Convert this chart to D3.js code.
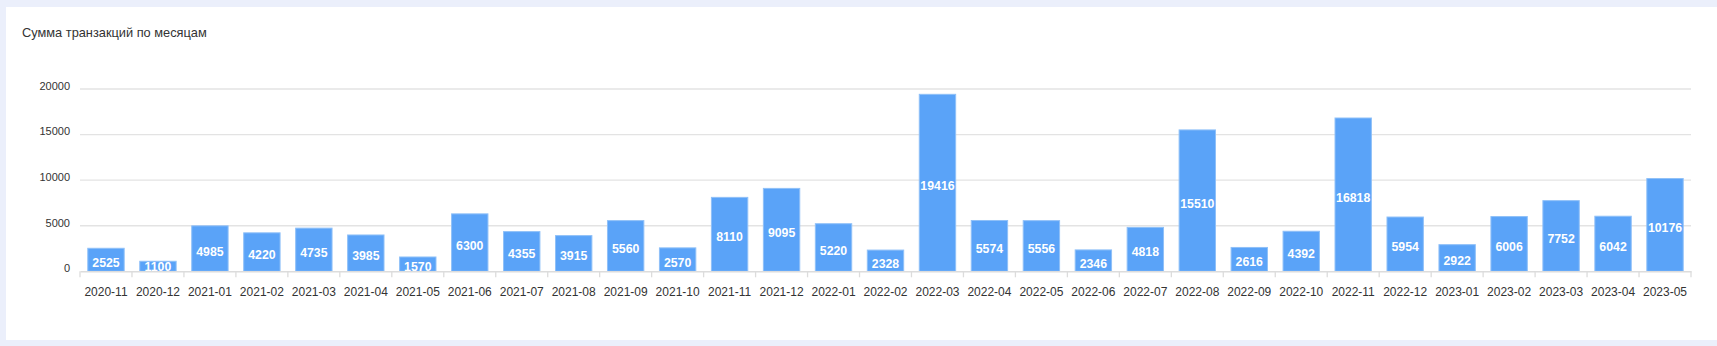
<!DOCTYPE html>
<html>
<head>
<meta charset="utf-8">
<script src="https://cdn.jsdelivr.net/npm/d3@7"></script>
<style>
  html, body { margin: 0; padding: 0; background: #ebeffb; }
  svg { display: block; font-family: "Liberation Sans", Arial, sans-serif; }
</style>
</head>
<body>
<svg width="1717" height="346"></svg>
<script>
// months and sums
const months = ["2020-11","2020-12","2021-01","2021-02","2021-03","2021-04","2021-05","2021-06",
  "2021-07","2021-08","2021-09","2021-10","2021-11","2021-12","2022-01","2022-02","2022-03",
  "2022-04","2022-05","2022-06","2022-07","2022-08","2022-09","2022-10","2022-11","2022-12",
  "2023-01","2023-02","2023-03","2023-04","2023-05"];
const sums = [2525,1100,4985,4220,4735,3985,1570,6300,4355,3915,5560,2570,8110,9095,5220,2328,19416,
  5574,5556,2346,4818,15510,2616,4392,16818,5954,2922,6006,7752,6042,10176];
const yTicks = [0, 5000, 10000, 15000, 20000];
const title = "Сумма транзакций по месяцам";

const svg = d3.select("svg");
const width = +svg.attr("width");
const height = +svg.attr("height");

// white card
svg.append("rect")
  .attr("x", 6).attr("y", 7)
  .attr("width", width - 6).attr("height", 333)
  .attr("fill", "#fff");

svg.append("text")
  .attr("x", 22).attr("y", 37)
  .attr("font-size", 12.8)
  .attr("fill", "#333")
  .text(title);

const margin = {left: 80, right: 26, top: 89, bottom: 75};

const x = d3.scaleBand()
  .domain(months)
  .range([margin.left, width - margin.right])
  .paddingInner(0.3)
  .paddingOuter(0.15);

const y = d3.scaleLinear()
  .domain([0, 20000])
  .range([271.3, margin.top]);

// grid
svg.append("g")
  .selectAll("line")
  .data(yTicks.slice(1))
  .enter()
  .append("line")
  .attr("x1", margin.left).attr("x2", width - margin.right)
  .attr("y1", d => y(d)).attr("y2", d => y(d))
  .attr("stroke", "#e3e3e3")
  .attr("stroke-width", 1.3);

// y labels
svg.append("g")
  .selectAll("text")
  .data(yTicks)
  .enter()
  .append("text")
  .attr("x", 70)
  .attr("y", d => y(d) - 2)
  .attr("text-anchor", "end")
  .attr("dominant-baseline", "middle")
  .attr("font-size", 11)
  .attr("fill", "#333")
  .text(d => d);

// bars
const barG = svg.append("g")
  .selectAll("g")
  .data(months)
  .enter()
  .append("g");

barG.append("rect")
  .attr("x", d => x(d))
  .attr("width", x.bandwidth())
  .attr("y", (d, i) => y(sums[i]))
  .attr("height", (d, i) => y(0) - y(sums[i]))
  .attr("fill", "#5aa3f8")
  .attr("stroke", "#8fc0f8")
  .attr("stroke-width", 1);

barG.append("text")
  .attr("x", d => x(d) + x.bandwidth() / 2)
  .attr("y", (d, i) => Math.min((y(sums[i]) + y(0)) / 2 + 3, 267))
  .attr("text-anchor", "middle")
  .attr("dominant-baseline", "central")
  .attr("font-size", 12.3)
  .attr("font-weight", "bold")
  .attr("fill", "#fff")
  .text((d, i) => sums[i]);

// x axis
const xAxis = d3.axisBottom(x).tickSize(0).tickSizeOuter(0);
const gx = svg.append("g")
  .attr("transform", `translate(0,${y(0)})`)
  .call(xAxis);
gx.select(".domain").attr("stroke", "#dcdcdc").attr("stroke-width", 1.5);
gx.selectAll("text")
  .attr("font-size", 12)
  .attr("fill", "#333")
  .attr("font-family", "Liberation Sans, Arial, sans-serif")
  .attr("dy", "1.8em");

// tick marks between categories
const bounds = d3.range(months.length + 1).map(i => margin.left + i * (width - margin.left - margin.right) / months.length);
svg.append("g")
  .selectAll("line")
  .data(bounds)
  .enter()
  .append("line")
  .attr("x1", d => d).attr("x2", d => d)
  .attr("y1", y(0)).attr("y2", y(0) + 6)
  .attr("stroke", "#dcdcdc")
  .attr("stroke-width", 1.3);
</script>
</body>
</html>
